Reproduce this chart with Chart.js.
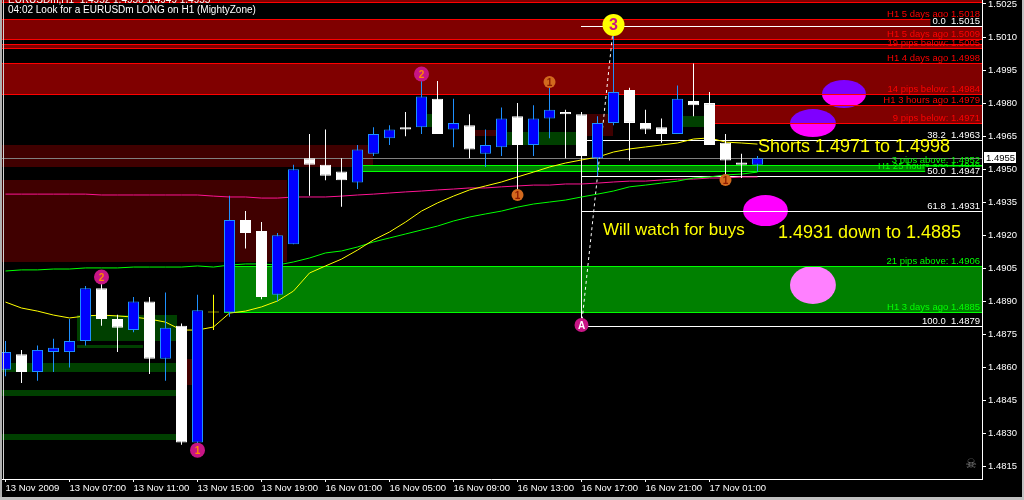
<!DOCTYPE html>
<html>
<head>
<meta charset="utf-8">
<title>EURUSDm H1</title>
<script src="https://cdn.jsdelivr.net/npm/chart.js@4.4.1/dist/chart.umd.min.js"></script>
<style>
  html, body { margin:0; padding:0; background:#000; overflow:hidden; }
  #c { display:block; }
</style>
</head>
<body>
<canvas id="c" width="1024" height="500"></canvas>
<script>
// —— H1 bars, 13 Nov 03:00 .. 17 Nov ——
const opens  = [1.4859,1.4866,1.4858,1.4867,1.4867,1.4872,1.4896,1.4882,1.4877,1.4890,1.4864,1.4879,1.4826,1.4885,1.4885,1.4927,1.4922,1.4893,1.4916,1.4955,1.4952,1.4949,1.4944,1.4957,1.4964,1.4969,1.4969,1.4982,1.4968,1.4970,1.4957,1.4960,1.4974,1.4961,1.4973,1.4976,1.4975,1.4955,1.4971,1.4986,1.4971,1.4969,1.4966,1.4981,1.4980,1.4962,1.4953,1.4952];
const highs  = [1.4872,1.4868,1.4870,1.4873,1.4882,1.4897,1.4900,1.4884,1.4892,1.4892,1.4894,1.4880,1.4893,1.4893,1.4938,1.4931,1.4926,1.4921,1.4952,1.4966,1.4968,1.4955,1.4961,1.4969,1.4970,1.4976,1.4992,1.4990,1.4982,1.4975,1.4968,1.4978,1.4980,1.4979,1.4991,1.4977,1.4976,1.4974,1.5015,1.4987,1.4977,1.4973,1.4988,1.4998,1.4985,1.4966,1.4957,1.4956];
const lows   = [1.4856,1.4853,1.4854,1.4858,1.4860,1.4870,1.4879,1.4867,1.4876,1.4857,1.4854,1.4825,1.4822,1.4877,1.4883,1.4914,1.4891,1.4890,1.4916,1.4938,1.4945,1.4933,1.4941,1.4956,1.4961,1.4965,1.4966,1.4966,1.4960,1.4955,1.4951,1.4956,1.4937,1.4956,1.4964,1.4955,1.4955,1.4947,1.4970,1.4954,1.4966,1.4962,1.4966,1.4974,1.4961,1.4945,1.4946,1.4949];
const closes = [1.4867,1.4858,1.4868,1.4869,1.4872,1.4896,1.4882,1.4878,1.4890,1.4864,1.4878,1.4826,1.4886,1.4885,1.4927,1.4921,1.4892,1.4920,1.4950,1.4952,1.4947,1.4945,1.4959,1.4966,1.4968,1.4968,1.4983,1.4966,1.4971,1.4959,1.4961,1.4973,1.4961,1.4973,1.4977,1.4975,1.4956,1.4971,1.4985,1.4971,1.4968,1.4966,1.4982,1.4979,1.4961,1.4954,1.4952,1.4955];

// moving averages
const maFast = [1.48897,1.48870,1.48856,1.48838,1.48825,1.48834,1.48838,1.48834,1.48829,1.48820,1.48806,1.48770,1.48770,1.48784,1.48847,1.48856,1.48875,1.48902,1.48947,1.49029,1.49061,1.49092,1.49133,1.49179,1.49215,1.49260,1.49310,1.49347,1.49378,1.49406,1.49424,1.49442,1.49465,1.49487,1.49510,1.49528,1.49542,1.49555,1.49578,1.49592,1.49601,1.49610,1.49619,1.49637,1.49642,1.49623,1.49619,1.49614];
const maSlow = [1.49038,1.49043,1.49043,1.49047,1.49047,1.49052,1.49052,1.49052,1.49056,1.49056,1.49056,1.49056,1.49061,1.49056,1.49065,1.49070,1.49070,1.49065,1.49079,1.49097,1.49120,1.49129,1.49147,1.49170,1.49188,1.49206,1.49224,1.49242,1.49265,1.49283,1.49297,1.49310,1.49328,1.49342,1.49351,1.49360,1.49374,1.49387,1.49401,1.49420,1.49428,1.49437,1.49446,1.49460,1.49465,1.49474,1.49478,1.49487];
const maPink = [1.49387,1.49387,1.49387,1.49387,1.49387,1.49387,1.49383,1.49383,1.49383,1.49383,1.49383,1.49383,1.49383,1.49378,1.49374,1.49374,1.49369,1.49369,1.49374,1.49374,1.49374,1.49378,1.49383,1.49387,1.49392,1.49397,1.49401,1.49406,1.49410,1.49415,1.49415,1.49420,1.49424,1.49428,1.49428,1.49433,1.49433,1.49437,1.49442,1.49446,1.49446,1.49451,1.49455,1.49455,1.49460,1.49460,1.49465,1.49465];

// axes
const tickIdx    = [0,4,8,12,16,20,24,28,32,36,40,44];
const timeLabels = ['13 Nov 2009','13 Nov 07:00','13 Nov 11:00','13 Nov 15:00','13 Nov 19:00','16 Nov 01:00','16 Nov 05:00','16 Nov 09:00','16 Nov 13:00','16 Nov 17:00','16 Nov 21:00','17 Nov 01:00'];
const priceTicks = [1.4815,1.4830,1.4845,1.4860,1.4875,1.4890,1.4905,1.4920,1.4935,1.4950,1.4965,1.4980,1.4995,1.5010,1.5025];

// MightyZone zones (live)
const zoneFrom   = [-1, -1, -1, -1, 44.34, 22.34, 13.66];
const zoneTop    = [1.5032, 1.5018, 1.5007, 1.4998, 1.4979, 1.4952, 1.4906];
const zoneBottom = [1.5026, 1.5009, 1.5005, 1.4984, 1.4971, 1.4949, 1.4885];
const zoneSide   = ['sell','sell','sell','sell','sell','buy','buy'];

const zoneLabels     = ['H1 5 days ago 1.5018','H1 5 days ago 1.5009','19 pips below: 1.5005','H1 4 days ago 1.4998','14 pips below: 1.4984','H1 3 hours ago 1.4979','9 pips below: 1.4971','3 pips above: 1.4952','H1 25 hours ago 1.4949','21 pips above: 1.4906','H1 3 days ago 1.4885'];
const zoneLabelPrice = [1.5018, 1.5009, 1.5005, 1.4998, 1.4984, 1.4979, 1.4971, 1.4952, 1.4949, 1.4906, 1.4885];
const zoneLabelSide  = ['sell','sell','sell','sell','sell','sell','sell','buy','buy','buy','buy'];

// broken / older zones
const histFrom   = [-1, -1, -1, -1, -1, 4.47, 4.47, 11.0, 26.0, 29.3, 31.3, 36.3, 42.3];
const histTo     = [22.97, 17.6, 10.66, 10.66, 10.66, 10.72, 8.6, 11.66, 27.0, 30.7, 35.7, 37.97, 43.7];
const histTop    = [1.4961, 1.4945, 1.4862, 1.4850, 1.4830, 1.4884, 1.4870, 1.4864, 1.4975, 1.4968, 1.4967, 1.4975, 1.4974];
const histBottom = [1.4951, 1.4908, 1.4858, 1.4847, 1.4827, 1.4872, 1.4869, 1.4852, 1.4969, 1.4965, 1.4961, 1.4965, 1.4969];
const histSide   = ['sell','sell','buy','buy','buy','buy','buy','sell','buy','sell','buy','sell','buy'];

// fibo
const fibFrom = 36, fibTo = 38, fibLow = 1.4879, fibHigh = 1.5015;
const fibLevels = [0, 38.2, 50, 61.8, 100];

// numbered markers
const markIdx   = [12, 6, 26, 34, 32, 45, 38, 36];
const markPrice = [1.48225, 1.49011, 1.49932, 1.49896, 1.49383, 1.49451, 1.50155, 1.48793];
const markText  = ['1','2','2','1','1','1','3','A'];
const markKind  = ['v','v','v','o','o','o','y','w'];

// drawn ellipses
const ellFrom   = [51.03, 49.03, 46.1, 49.03];
const ellTo     = [53.78, 51.9, 48.9, 51.9];
const ellTop    = [1.49905, 1.49773, 1.49383, 1.49061];
const ellBottom = [1.49778, 1.49646, 1.49242, 1.48888];

// notes
const noteText  = ['Shorts 1.4971 to 1.4998', 'Will watch for buys', '1.4931 down to 1.4885'];
const noteIdx   = [47.03, 37.34, 48.28];
const notePrice = [1.49578, 1.49201, 1.49188];
const noteSize  = [18, 17, 18];

const idx = opens.map((_, i) => i);
const kindOf = i => closes[i] > opens[i] ? 'up' : (closes[i] < opens[i] ? 'down' : 'doji');
const BODY = { up:'#0000ff', down:'#ffffff', doji:'#ffff00' };
const EDGE = { up:'#1e90ff', down:'#ffffff', doji:'#ffff00' };
const MARK_FILL  = { v:'#c71585', o:'#d2691e', y:'#ffff00', w:'#c71585' };
const MARK_GLYPH = { v:'#ff8c00', o:'#8b1a00', y:'#c71585', w:'#ffffff' };
const MARK_R     = { v:7.5, o:6, y:11, w:7 };
const FONT = '"Liberation Sans", Arial, sans-serif';
const LABEL_FONT = '9.5px ' + FONT;

const mt4 = {
  id: 'mt4',
  beforeDraw(chart){
    const c = chart.ctx;
    c.save(); c.fillStyle = '#000'; c.fillRect(0, 0, chart.width, chart.height); c.restore();
  },
  beforeDatasetsDraw(chart){
    const c = chart.ctx, a = chart.chartArea;
    const X = v => chart.scales.x.getPixelForValue(v), Y = p => chart.scales.y.getPixelForValue(p);
    c.save();
    c.beginPath(); c.rect(a.left, a.top, a.right - a.left, a.bottom - a.top); c.clip();

    // old zones
    histFrom.forEach((f, k) => {
      const x0 = Math.max(a.left, Math.round(X(f))), x1 = Math.round(X(histTo[k]));
      const y0 = Math.round(Y(histTop[k])), y1 = Math.round(Y(histBottom[k]));
      c.fillStyle = histSide[k] === 'sell' ? '#400000' : '#004000';
      c.fillRect(x0, y0, x1 - x0, y1 - y0);
    });
    // live zones fill
    zoneFrom.forEach((f, k) => {
      const x0 = Math.max(a.left, Math.round(X(f)));
      const y0 = Math.round(Y(zoneTop[k])), y1 = Math.round(Y(zoneBottom[k]));
      c.fillStyle = zoneSide[k] === 'sell' ? '#800000' : '#008000';
      c.fillRect(x0, y0, a.right - x0, y1 - y0);
    });
    // ellipses (xor-like look)
    c.globalCompositeOperation = 'difference';
    c.fillStyle = '#ff00ff';
    ellFrom.forEach((f, k) => {
      const x0 = X(f), x1 = X(ellTo[k]), y0 = Y(ellTop[k]), y1 = Y(ellBottom[k]);
      c.beginPath();
      c.ellipse((x0 + x1) / 2, (y0 + y1) / 2, (x1 - x0) / 2, (y1 - y0) / 2, 0, 0, Math.PI * 2);
      c.fill();
    });
    c.globalCompositeOperation = 'source-over';
    // zone borders
    zoneFrom.forEach((f, k) => {
      const x0 = Math.max(a.left, Math.round(X(f)));
      c.fillStyle = zoneSide[k] === 'sell' ? '#ff0000' : '#00ff00';
      c.fillRect(x0, Math.round(Y(zoneTop[k])), a.right - x0, 1);
      c.fillRect(x0, Math.round(Y(zoneBottom[k])), a.right - x0, 1);
    });
    // bid line
    c.fillStyle = '#808080';
    c.fillRect(a.left, Math.round(Y(closes[closes.length - 1])), a.right - a.left, 1);
    // fibo
    const fx = Math.round(X(fibFrom) - 0.5);
    c.fillStyle = '#ffffff';
    fibLevels.forEach(l => {
      const p = fibHigh - (fibHigh - fibLow) * l / 100;
      c.fillRect(fx, Math.round(Y(p)), a.right - fx, 1);
    });
    c.fillRect(fx, Math.round(Y(lows[fibFrom])), 1, Math.round(Y(fibLow)) - Math.round(Y(lows[fibFrom])));
    c.strokeStyle = '#ffffff'; c.lineWidth = 1; c.setLineDash([3, 3]);
    c.beginPath(); c.moveTo(X(fibFrom), Y(fibLow)); c.lineTo(X(fibTo), Y(fibHigh)); c.stroke();
    c.restore();
  },
  afterDatasetsDraw(chart){
    const c = chart.ctx, a = chart.chartArea;
    const X = v => chart.scales.x.getPixelForValue(v), Y = p => chart.scales.y.getPixelForValue(p);
    c.save();
    // marker glyphs
    const meta = chart.getDatasetMeta(5);
    c.textAlign = 'center'; c.textBaseline = 'middle';
    meta.data.forEach((pt, k) => {
      const kd = markKind[k];
      c.font = (kd === 'y' ? 'bold 16px ' : 'bold 10px ') + FONT;
      c.fillStyle = MARK_GLYPH[kd];
      c.fillText(markText[k], pt.x, pt.y + 1);
    });
    // zone labels
    c.font = LABEL_FONT; c.textAlign = 'right'; c.textBaseline = 'alphabetic';
    zoneLabels.forEach((t, k) => {
      c.fillStyle = zoneLabelSide[k] === 'sell' ? '#ff0000' : '#00ff00';
      c.fillText(t, a.right - 2, Math.round(Y(zoneLabelPrice[k])) - 2);
    });
    // fibo labels
    fibLevels.forEach(l => {
      const p = fibHigh - (fibHigh - fibLow) * l / 100;
      const y = Math.round(Y(p));
      const t = l.toFixed(1) + '  ' + p.toFixed(4);
      const w = c.measureText(t).width;
      c.fillStyle = '#000'; c.fillRect(a.right - 4 - w, y - 9, w + 4, 9);
      c.fillStyle = '#fff'; c.fillText(t, a.right - 2, y - 2);
    });
    // notes
    c.textAlign = 'left'; c.fillStyle = '#ffff00';
    noteText.forEach((t, k) => {
      c.font = noteSize[k] + 'px ' + FONT;
      c.fillText(t, X(noteIdx[k]), Y(notePrice[k]));
    });
    c.restore();
  },
  afterDraw(chart){
    const c = chart.ctx, a = chart.chartArea, Y = p => chart.scales.y.getPixelForValue(p);
    const n = closes.length - 1;
    c.save();
    // current price box
    const by = Math.round(Y(closes[n]));
    c.fillStyle = '#fff'; c.fillRect(a.right + 2, by - 6, 32, 11);
    c.fillStyle = '#000'; c.font = LABEL_FONT; c.textAlign = 'left'; c.textBaseline = 'middle';
    c.fillText(closes[n].toFixed(4), a.right + 4, by);
    // title
    c.fillStyle = '#fff'; c.font = '10px ' + FONT; c.textBaseline = 'alphabetic';
    c.fillText('EURUSDm,H1  ' + [opens[n], highs[n], lows[n], closes[n]].map(v => v.toFixed(4)).join(' '), 8, 3);
    c.fillText('04:02 Look for a EURUSDm LONG on H1 (MightyZone)', 8, 12.5);
    // window frame bits
    c.fillStyle = '#b0b0b0'; c.fillRect(0, 0, 2, 500);
    c.fillStyle = '#d0d0d0'; c.fillRect(3, 0, 1, a.bottom);
    c.fillStyle = '#c0c0c0'; c.fillRect(0, 497, 1024, 3); c.fillRect(1022, 0, 2, 500);
    // expert status icon
    c.fillStyle = '#808080'; c.font = '13px "DejaVu Sans"'; c.textAlign = 'center'; c.textBaseline = 'middle';
    c.fillText('\u2620', a.right - 11, 465);
    c.restore();
  }
};

new Chart(document.getElementById('c'), {
  type: 'bar',
  data: {
    datasets: [
      { type:'line', data: idx.map(i => ({x:i, y:maPink[i]})), borderColor:'#ff1493', borderWidth:1, pointRadius:0, order:7 },
      { type:'line', data: idx.map(i => ({x:i, y:maSlow[i]})), borderColor:'#00ff00', borderWidth:1, pointRadius:0, order:6 },
      { type:'line', data: idx.map(i => ({x:i, y:maFast[i]})), borderColor:'#ffff00', borderWidth:1, pointRadius:0, order:5 },
      { type:'bar', data: idx.map(i => ({x:i, y:[lows[i], highs[i]]})),
        backgroundColor: idx.map(i => EDGE[kindOf(i)]), borderWidth:0, barThickness:1, inflateAmount:0, grouped:false, order:4 },
      { type:'bar', data: idx.map(i => ({x:i, y:[opens[i], closes[i]]})),
        backgroundColor: idx.map(i => BODY[kindOf(i)]), borderColor: idx.map(i => EDGE[kindOf(i)]),
        borderWidth:1, borderSkipped:false, barThickness:11, minBarLength:1, inflateAmount:0, grouped:false, order:3 },
      { type:'scatter', data: markIdx.map((v, k) => ({x:v, y:markPrice[k]})),
        pointRadius: markKind.map(k => MARK_R[k]), pointBackgroundColor: markKind.map(k => MARK_FILL[k]),
        pointBorderWidth:0, clip:false, order:1 }
    ]
  },
  options: {
    responsive:false, animation:false, events:[], devicePixelRatio:1,
    layout:{ padding:0, autoPadding:false },
    plugins:{ legend:{display:false}, tooltip:{enabled:false} },
    scales:{
      x:{
        type:'linear', position:'bottom', bounds:'data', offset:false,
        min:-0.34375, max:61.03125,
        grid:{ drawOnChartArea:false, tickLength:3, color:'#ffffff', offset:false },
        border:{ color:'#ffffff' },
        ticks:{ color:'#ffffff', font:{family:'Liberation Sans', size:9.5}, align:'start', autoSkip:false, maxRotation:0, padding:1,
                callback: v => { const k = tickIdx.indexOf(v); return k < 0 ? '' : timeLabels[k]; } },
        afterBuildTicks: s => { s.ticks = tickIdx.map(v => ({value:v})); },
        afterFit: s => { s.height = 21; s.paddingLeft = 0; s.paddingRight = 0; }
      },
      y:{
        type:'linear', position:'right', bounds:'data',
        min:1.48094, max:1.50268,
        grid:{ drawOnChartArea:false, tickLength:4, color:'#ffffff' },
        border:{ color:'#ffffff' },
        ticks:{ color:'#ffffff', font:{family:'Liberation Sans', size:9.5}, padding:2, callback: v => Number(v).toFixed(4) },
        afterBuildTicks: s => { s.ticks = priceTicks.map(v => ({value:v})); },
        afterFit: s => { s.width = 42; s.paddingTop = 0; s.paddingBottom = 0; }
      }
    }
  },
  plugins:[mt4]
});
</script>
</body>
</html>
